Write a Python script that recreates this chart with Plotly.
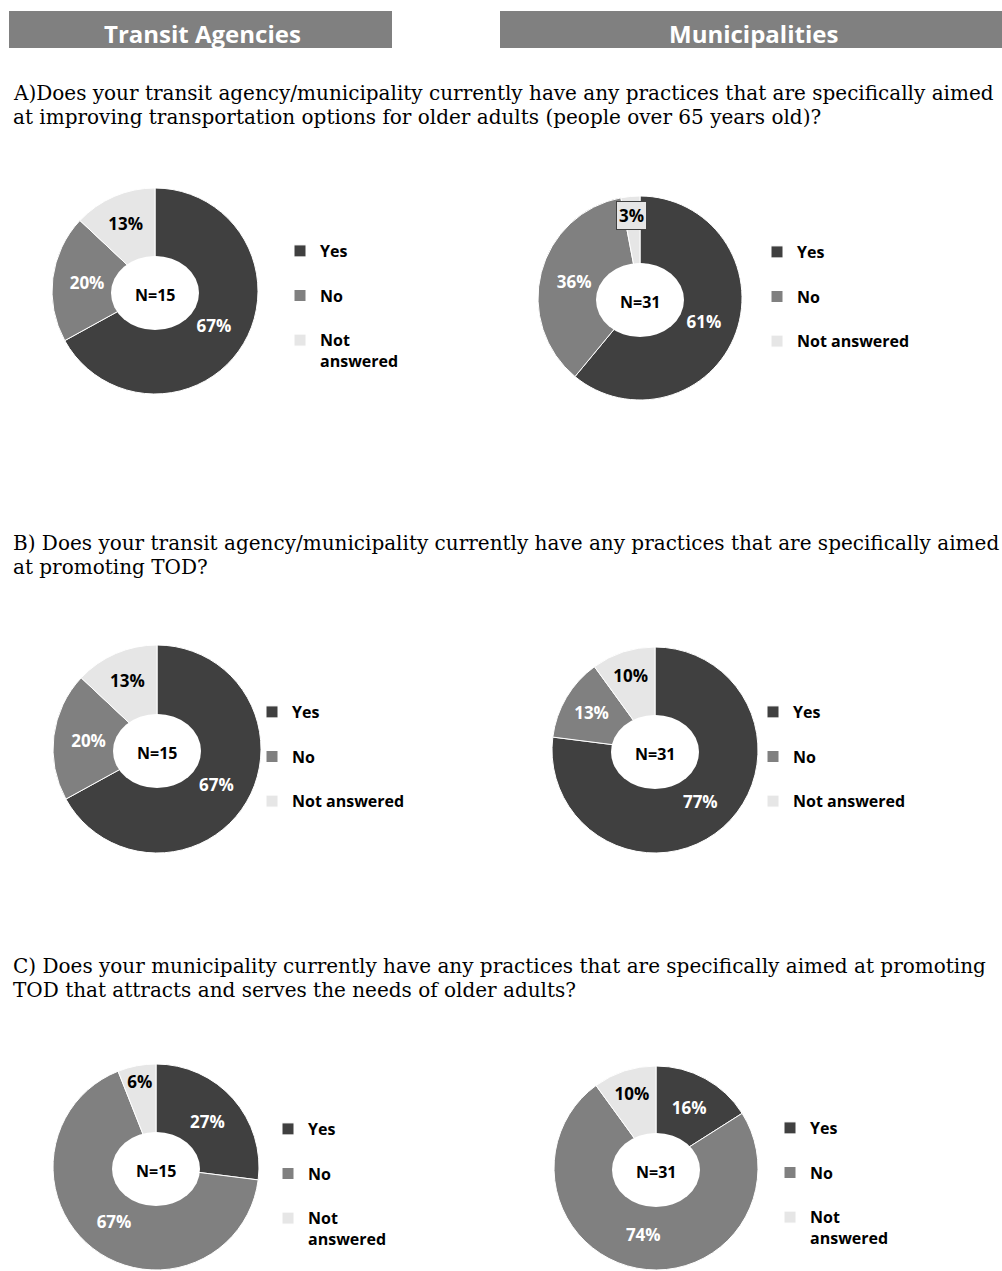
import plotly.graph_objects as go

W, H = 1002, 1271

# ---------------- data ----------------
categories = ["Yes", "No", "Not answered"]
headers = ["Transit Agencies", "Municipalities"]
questions = [
    ["A)Does your transit agency/municipality currently have any practices that are specifically aimed",
     "at improving transportation options for older adults (people over 65 years old)?"],
    ["B) Does your transit agency/municipality currently have any practices that are specifically aimed",
     "at promoting TOD?"],
    ["C) Does your municipality currently have any practices that are specifically aimed at promoting",
     "TOD that attracts and serves the needs of older adults?"],
]
a_transit = [67, 20, 13]
a_muni = [61, 36, 3]
b_transit = [67, 20, 13]
b_muni = [77, 13, 10]
c_transit = [27, 67, 6]
c_muni = [16, 74, 10]
n_transit = 15
n_muni = 31

# ---------------- style ----------------
colors = ["#404040", "#808080", "#e6e6e6"]
text_colors = ["white", "white", "black"]
SANS = "Open Sans"
SERIF = "DejaVu Serif"


def px(x):
    return x / W


def py(y):
    return min(1.0, max(0.0, 1 - y / H))


# chart placement: (values, N, cx, cy, R, legend_x, legend_top, wrap_not_answered, boxed_index)
charts = [
    (a_transit, n_transit, 155, 291, 103, 280, 234, True, None),
    (a_muni, n_muni, 640, 298, 102, 757, 235, False, 2),
    (b_transit, n_transit, 157, 749, 104, 252, 695, False, None),
    (b_muni, n_muni, 655, 750, 103, 753, 695, False, None),
    (c_transit, n_transit, 156, 1167, 103, 268, 1112, True, None),
    (c_muni, n_muni, 656, 1168, 102, 770, 1111, True, None),
]

fig = go.Figure()
shapes = []
annotations = []
layout_legends = {}
HOLE_A, HOLE_B = 44, 37  # hole semi-axes (px)
HOLE_DY = 2

for i, (vals, n, cx, cy, R, lx, ltop, wrap, boxed) in enumerate(charts):
    leg = "legend" if i == 0 else f"legend{i + 1}"
    pad = "\u00a0" * (i + 1)  # keeps each chart's legend entries distinct
    labels = []
    for c in categories:
        if c == "Not answered" and wrap:
            labels.append("Not<br>answered" + pad)
        else:
            labels.append(c + "<br>" + pad)
    tpos = ["inside"] * len(vals)
    if boxed is not None:
        tpos[boxed] = "none"
    fig.add_trace(go.Pie(
        labels=labels, values=vals, sort=False, direction="clockwise", rotation=0,
        hole=(HOLE_B - HOLE_DY - 1) / R,
        marker=dict(colors=colors, line=dict(color="white", width=1)),
        texttemplate="%{value}%", textposition=tpos,
        insidetextorientation="horizontal",
        textfont=dict(family=SANS, size=17, color=text_colors, weight="bold"),
        domain=dict(x=[px(cx - R), px(cx + R)], y=[py(cy + R), py(cy - R)]),
        legend=leg, showlegend=True, hoverinfo="skip",
    ))
    layout_legends[leg] = dict(
        x=px(lx), y=py(ltop), xanchor="left", yanchor="top",
        font=dict(family=SANS, size=16, color="black", weight="bold"),
        valign="top", bgcolor="rgba(0,0,0,0)", borderwidth=0,
        itemclick=False, itemdoubleclick=False,
    )
    # elliptical doughnut hole
    shapes.append(dict(type="circle", xref="paper", yref="paper",
                       x0=px(cx - HOLE_A), x1=px(cx + HOLE_A),
                       y0=py(cy + HOLE_DY + HOLE_B), y1=py(cy + HOLE_DY - HOLE_B),
                       fillcolor="white", line=dict(width=0), layer="above"))
    annotations.append(dict(x=px(cx), y=py(cy + 4), xref="paper", yref="paper",
                            xanchor="center", yanchor="middle",
                            text=f"N={n}", showarrow=False,
                            font=dict(family=SANS, size=16, color="black", weight="bold")))
    if boxed is not None:
        annotations.append(dict(x=px(631), y=py(215), xref="paper", yref="paper",
                                xanchor="center", yanchor="middle",
                                text=f"{vals[boxed]}%", showarrow=False,
                                bgcolor=colors[boxed], bordercolor="#404040",
                                borderwidth=1, borderpad=2,
                                font=dict(family=SANS, size=17, color="black", weight="bold")))

# header bars
header_boxes = [(9, 392), (500, 1002)]
for (x0, x1), txt in zip(header_boxes, headers):
    shapes.append(dict(type="rect", xref="paper", yref="paper",
                       x0=px(x0), x1=px(x1), y0=py(48), y1=py(11),
                       fillcolor="#808080", line=dict(width=0), layer="below"))
    annotations.append(dict(x=px((x0 + x1) / 2 + 2), y=py(33), xref="paper", yref="paper",
                            text=txt, showarrow=False, xanchor="center", yanchor="middle",
                            font=dict(family=SANS, size=24, color="white", weight="bold")))

# question text lines (baselines)
q_baselines = [(100, 124), (550, 574), (973, 997)]
QFS = 20
for lines, bases in zip(questions, q_baselines):
    for line, b in zip(lines, bases):
        annotations.append(dict(x=px(11), y=py(b - 0.346 * QFS), xref="paper", yref="paper",
                                text=line, showarrow=False, xanchor="left", yanchor="middle",
                                font=dict(family=SERIF, size=QFS, color="black")))

fig.update_layout(
    width=W, height=H, margin=dict(l=0, r=0, t=0, b=0),
    paper_bgcolor="white", plot_bgcolor="white",
    shapes=shapes, annotations=annotations,
    uniformtext=dict(mode="show", minsize=17),
    **layout_legends,
)

fig.write_html("out.html", config={"displayModeBar": False},
               post_script="document.body.style.margin='0px';")
